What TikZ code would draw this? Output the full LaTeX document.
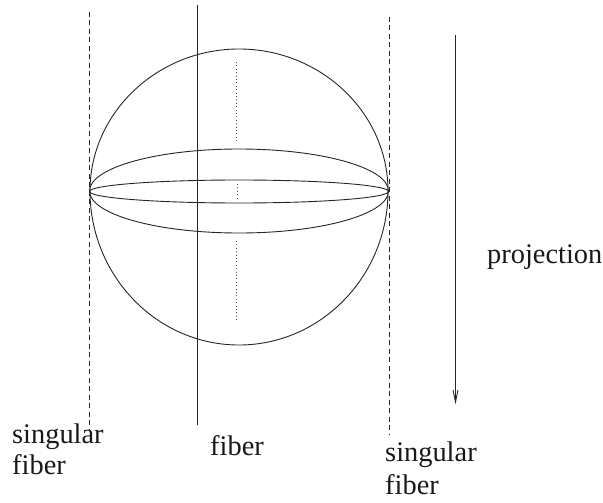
\documentclass[tikz,border=0pt]{standalone}
\usepackage{fontspec}
\setmainfont{Liberation Serif}
\begin{document}
\begin{tikzpicture}[x=1pt,y=-1pt,
  curve/.style={draw=black!85,line width=0.9pt},
  fiberline/.style={draw=black!85,line width=1pt},
  singular/.style={draw=black!85,line width=0.9pt,dash pattern=on 5pt off 3.5pt},
  innerdots/.style={draw=black!70,line width=0.8pt,dash pattern=on 1pt off 2.4pt},
  lbl/.style={anchor=base west,inner sep=0pt,font=\fontsize{28.4}{28.4}\selectfont,text=black!90}]
\useasboundingbox (0,0) rectangle (603,503);
% sphere
\draw[curve] (90,191) .. controls (90,113) and (157,49) .. (239,49) .. controls (321,49) and (388,113) .. (388,191)
  .. controls (388,276) and (321,345) .. (239,345) .. controls (157,345) and (90,276) .. (90,191);
% parallels
\draw[curve] (239,191) ellipse [x radius=149.5, y radius=42];
\draw[curve] (239,191.5) ellipse [x radius=149.5, y radius=11.5];
% hidden axis
\draw[innerdots] (236,62) -- (236,141);
\draw[innerdots] (237,184) -- (237,200);
\draw[innerdots] (236.5,241) -- (236.5,320);
% fibers
\coordinate (sl1) at (89.5,12); \coordinate (sl2) at (89.5,430);
\coordinate (f1) at (197.5,5); \coordinate (f2) at (197.5,425);
\coordinate (sr1) at (389.5,17); \coordinate (sr2) at (389.5,435);
\coordinate (p1) at (455.5,35); \coordinate (p2) at (455.5,402);
\draw[singular] (sl1) -- (sl2);
\draw[fiberline] (f1) -- (f2);
\draw[singular] (sr1) -- (sr2);
\draw[fiberline,line width=0.9pt] (p1) -- (p2);
\draw[fiberline,line width=0.9pt] (453,390) -- (p2) -- (458,390);
% labels
\node[lbl] (a) at (12,443) {singular};
\node[lbl] (b) at (12,474) {fiber};
\node[lbl] (c) at (210,455) {fiber};
\node[lbl] (d) at (385,461) {singular};
\node[lbl] (e) at (385,494) {fiber};
\node[lbl] (g) at (487,263) {projection};
\end{tikzpicture}
\end{document}
